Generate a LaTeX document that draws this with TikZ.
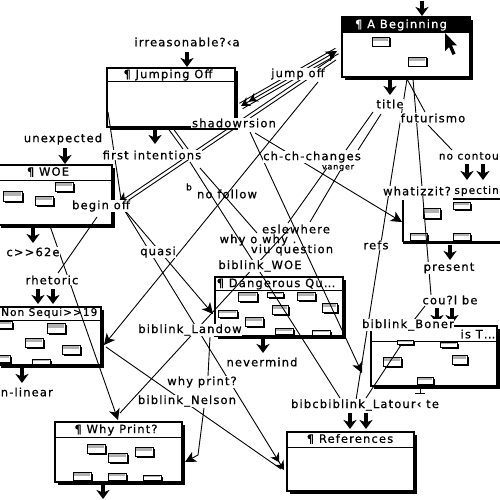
\documentclass[tikz,border=0pt]{standalone}
\usepackage{fontspec}
\newfontfamily\gen[LetterSpace=10,FakeBold=0.8]{DejaVu Sans}
\usetikzlibrary{arrows.meta,shadows}
\newcommand{\minir}[4]{%
  \fill (#1+1.5,#2+1.5) rectangle (#3+1.5,#4+1.5);
  \draw[line width=0.7pt,fill=white] (#1,#2) rectangle (#3,#4);
  \fill[gray!60] (#1+0.6,#2+0.6) rectangle (#3-0.6,{#2+(#4-#2)*0.45});}
\begin{document}
\begin{tikzpicture}[x=1pt,y=-1pt,
  stbox/.style={draw,line width=1.1pt,fill=white,inner sep=0pt,
    drop shadow={shadow xshift=3pt,shadow yshift=-3pt,fill=black,opacity=1}},
  lbl/.style={font=\gen\fontsize{11.5}{12}\selectfont,inner sep=0.6pt,fill=white},
  ttl/.style={font=\gen\fontsize{11.5}{12}\selectfont,inner sep=0.5pt},
  lnk/.style={line width=0.9pt},
  tip/.style={-{Stealth[length=11pt,width=11pt,inset=3pt]}},
  dtip/.style={-{Stealth[length=9pt,width=10pt,inset=3pt]Stealth[length=9pt,width=10pt,inset=3pt]}},
  stub/.style={line width=3.5pt,-{Stealth[length=9pt,width=13pt,inset=2.5pt]}}]
\useasboundingbox (0,0) rectangle (500,500);
\clip (0,0) rectangle (500,500);
\fill[white] (0,0) rectangle (500,500);

% ---------- boxes ----------
\node[stbox,minimum width=128pt,minimum height=60pt] (beg) at (406,47) {};
\fill (342,17) rectangle (470,33);
\node[stbox,minimum width=128pt,minimum height=59pt] (jump) at (171,97.5) {};
\draw[line width=1pt] (107,82) -- (235,82);
\node[stbox,minimum width=114pt,minimum height=60pt] (woe) at (55,195) {};
\draw[line width=1pt] (-2,180) -- (112,180);
\node[stbox,minimum width=103pt,minimum height=58pt] (nonseq) at (49.5,336) {};
\draw[line width=1pt] (-2,320) -- (101,320);
\node[stbox,minimum width=127pt,minimum height=60pt] (why) at (118.5,452) {};
\draw[line width=1pt] (55,437) -- (182,437);
\node[stbox,minimum width=128pt,minimum height=59pt] (dang) at (279,306.5) {};
\draw[line width=1pt] (215,290) -- (343,290);
\node[stbox,minimum width=126pt,minimum height=60pt] (bonerbox) at (434,356) {};
\draw[line width=1pt] (371,341) -- (497,341);
\node[stbox,minimum width=127pt,minimum height=59pt] (refsbox) at (350.5,461.5) {};
\draw[line width=1pt] (287,447) -- (414,447);
% partly hidden box on the right
\draw[line width=1.1pt] (403,200) -- (403,242);
\fill (403,240.5) rectangle (500,243.5);
\draw[line width=1.4pt] (453,199) -- (500,199);

% mini rectangles
\minir{372}{37}{389}{46}\minir{408}{57}{426}{66}
\minir{3}{191}{22}{201}\minir{35}{196}{53}{205}\minir{55}{182}{73}{191}
\minir{-3}{321}{12}{328}\minir{47}{323}{65}{333}\minir{25}{338}{43}{347}
\minir{62}{345}{80}{354}\minir{-3}{355}{10}{362}\minir{32}{359}{50}{364}
\minir{87}{444}{105}{453}\minir{108}{453}{127}{462}\minir{135}{447}{153}{456}
\minir{73}{472}{91}{480}\minir{108}{473}{126}{480}\minir{143}{475}{161}{480}
\minir{238}{292}{257}{301}\minir{267}{292}{283}{297}\minir{297}{292}{315}{300}
\minir{272}{305}{288}{314}\minir{322}{303}{337}{312}\minir{218}{310}{237}{317}
\minir{245}{317}{263}{326}\minir{275}{328}{293}{334}\minir{312}{330}{330}{335}
\minir{410}{233}{427}{240}\minir{453}{233}{470}{240}\minir{423}{208}{440}{218}
\minir{453}{202}{470}{209}
\minir{383}{357}{401}{366}\minir{452}{355}{467}{364}\minir{440}{342}{457}{347}
\minir{417}{377}{433}{384}\minir{397}{340}{413}{344}

% cursor
\fill (445,33) -- (445,51) -- (449,47) -- (452.5,55) -- (455.5,53.5) -- (452,45.5) -- (457,45.5) -- cycle;

% ---------- link end points ----------
\coordinate (jA) at (241,106); \coordinate (jB) at (337,51);
\coordinate (bA) at (118,203); \coordinate (bB) at (334,57);
\coordinate (cA) at (318,82);  \coordinate (cB) at (104,345);
\coordinate (dA) at (50,226);  \coordinate (dB) at (118,420);
\coordinate (xA) at (290,228); \coordinate (xB) at (120,413);
\coordinate (eA) at (97,217);  \coordinate (eB) at (58,273);
\coordinate (fA) at (123,208); \coordinate (fB) at (284,470);
\coordinate (wA) at (106,347); \coordinate (wB) at (281,469);
\coordinate (gA) at (122,207); \coordinate (gB) at (213,314);
\coordinate (hA) at (250,132); \coordinate (hB) at (362,373);
\coordinate (kA) at (190,162); \coordinate (kB) at (340,398);
\coordinate (lA) at (200,168); \coordinate (lB) at (257,233);
\coordinate (t1A) at (373,112); \coordinate (t1B) at (346,150);
\coordinate (t2A) at (381,114); \coordinate (t2B) at (358,150);
\coordinate (e1A) at (327,168); \coordinate (e1B) at (288,223);
\coordinate (e2A) at (340,171); \coordinate (e2B) at (310,222);
\coordinate (sA) at (255,133); \coordinate (sB) at (402,222);
\coordinate (fuA) at (407,79); \coordinate (fuB) at (425,112);
\coordinate (fuC) at (428,125); \coordinate (fuD) at (452,150);
\coordinate (oA) at (407,79); \coordinate (oB) at (356,400);
\coordinate (pA) at (413,79); \coordinate (pB) at (431,295);
\coordinate (qA) at (425,306); \coordinate (qB) at (414,320);
\coordinate (rA) at (401,345); \coordinate (rB) at (366,398);
\coordinate (vA) at (210,337); \coordinate (vB) at (208,376);
\coordinate (nA) at (204,408); \coordinate (nM) at (198,455); \coordinate (nB) at (185,462);
\coordinate (u1A) at (167,127); \coordinate (u1B) at (183,149);
\coordinate (u2A) at (172,127); \coordinate (u2B) at (188,149);
\coordinate (yA) at (108,112); \coordinate (yB) at (121,199);

% ---------- links ----------
\draw[lnk,{Stealth[length=9pt,width=10pt,inset=3pt]Stealth[length=9pt,width=10pt,inset=3pt]}-{Stealth[length=11pt,width=11pt,inset=3pt]}] (jA) -- (jB);
\draw[lnk] ([shift={(1.6,2.7)}]jA) -- ([shift={(1.6,2.7)}]jB);
\draw[lnk] ([shift={(-1.6,-2.7)}]jA) -- ([shift={(-1.6,-2.7)}]jB);
\draw[lnk,tip] (bB) -- (bA);
\draw[lnk] ([shift={(2,3)}]bB) -- ([shift={(2,3)}]bA);
\draw[lnk,tip] (cA) -- (cB);
\draw[lnk,tip] (dA) -- (dB);
\draw[lnk] (xA) -- (xB);
\draw[lnk] (eA) -- (eB);
\draw[lnk,dtip] (fA) -- (fB);
\draw[lnk] (wA) -- (wB);
\draw[lnk,tip] (gA) -- (gB);
\draw[lnk,tip] (hA) -- (hB);
\draw[lnk] (kA) -- (kB);
\draw[lnk] (lA) -- (lB);
\draw[lnk] (t1A) -- (t1B);
\draw[lnk] (t2A) -- (t2B);
\draw[lnk] (e1A) -- (e1B);
\draw[lnk] (e2A) -- (e2B);
\draw[lnk,tip] (sA) -- (sB);
\draw[lnk] (fuA) -- (fuB);
\draw[lnk] (fuC) -- (fuD);
\draw[lnk] (oA) -- (oB);
\draw[lnk] (pA) -- (pB);
\draw[lnk] (qA) -- (qB);
\draw[lnk] (rA) -- (rB);
\draw[lnk] (vA) -- (vB);
\draw[lnk,tip] (nA) -- (nM) -- (nB);
\draw[lnk] (u1A) -- (u1B);
\draw[lnk] (u2A) -- (u2B);
\draw[lnk] (yA) -- (yB);

% ---------- stub arrows ----------
\coordinate (s1a) at (187,52);  \coordinate (s1b) at (187,67);
\coordinate (s2a) at (422,1);   \coordinate (s2b) at (422,16);
\coordinate (s3a) at (390,80);  \coordinate (s3b) at (390,95);
\coordinate (s4a) at (155,129); \coordinate (s4b) at (155,144);
\coordinate (s5a) at (65,148);  \coordinate (s5b) at (65,164);
\coordinate (s6a) at (33,228);  \coordinate (s6b) at (33,243);
\coordinate (s7a) at (38,289);  \coordinate (s7b) at (38,304);
\coordinate (s8a) at (53,289);  \coordinate (s8b) at (53,304);
\coordinate (s9a) at (22,368);  \coordinate (s9b) at (22,383);
\coordinate (s10a) at (103,485); \coordinate (s10b) at (103,499);
\coordinate (s11a) at (263,339); \coordinate (s11b) at (263,353);
\coordinate (s12a) at (450,245); \coordinate (s12b) at (450,260);
\coordinate (s13a) at (467,164); \coordinate (s13b) at (467,180);
\coordinate (s14a) at (483,164); \coordinate (s14b) at (483,180);
\coordinate (s15a) at (437,308); \coordinate (s15b) at (437,324);
\coordinate (s16a) at (452,308); \coordinate (s16b) at (452,324);
\coordinate (s17a) at (350,413); \coordinate (s17b) at (350,429);
\coordinate (s18a) at (366,413); \coordinate (s18b) at (366,429);
\foreach \i in {1,...,18} {\draw[stub] (s\i a) -- (s\i b);}
\coordinate (tk1) at (420,388); \coordinate (tk2) at (420,393);
\draw[line width=1pt] (tk1) -- (tk2) ([xshift=-5pt]tk2) -- ([xshift=5pt]tk2);

% ---------- titles ----------
\node[ttl,text=white] (begT) at (401,25) {¶ A Beginning};
\node[ttl] (jumpT) at (168,75) {¶ Jumping Off};
\node[ttl] (woeT) at (48,172) {¶ WOE};
\node[ttl,anchor=west,font=\gen\fontsize{10.5}{11}\selectfont] (nsT) at (0.5,313) {Non Sequi>>19};
\node[ttl] (whyT) at (116,430) {¶ Why Print?};
\node[ttl,anchor=west] (dangT) at (216,284) {¶ Dangerous Qu…};
\node[ttl] (refsT) at (350,439) {¶ References};
\node[ttl] (bonerT) at (478,334) {is T…};
\node[ttl,anchor=east,font=\gen\fontsize{10.5}{11}\selectfont] (specT) at (499.5,191) {spectin};

% ---------- link labels ----------
\node[lbl] (irr) at (187,42) {irreasonable?‹a};
\node[lbl] (jumpoff) at (298,74) {jump off};
\node[lbl] (shadow) at (234,123) {shadowrsion};
\node[lbl] (unexp) at (63,139) {unexpected};
\node[lbl] (first) at (152,155) {first intentions};
\node[lbl] (chch) at (312,157) {ch-ch-changes};
\node[lbl,font=\gen\fontsize{8}{8}\selectfont,fill=none] (vanger) at (338,168) {vanger};
\node[lbl] (ttlL) at (390,104) {title};
\node[lbl] (futur) at (433,118) {futurismo};
\node[lbl,anchor=east,font=\gen\fontsize{10.5}{11}\selectfont] (nocont) at (499.5,156) {no contou};
\node[lbl] (whatiz) at (417,191) {whatizzit?};
\node[lbl,fill=none] (nofollow) at (227,194) {no follow};
\node[lbl,font=\gen\fontsize{9}{9}\selectfont,fill=none] (bsup) at (189,187) {b};
\node[lbl] (beginoff) at (101,206) {begin off};
\node[lbl,fill=none] (eslew) at (296,229) {eslewhere};
\node[lbl,fill=none] (whyo) at (258,240) {why o why .};
\node[lbl,fill=none] (viu) at (292,250) {viu question};
\node[lbl] (c62) at (33,252) {c>>62e};
\node[lbl] (quasi) at (158,252) {quasi};
\node[lbl] (refsL) at (376,245) {refs};
\node[lbl] (bwoe) at (260,266) {biblink\_WOE};
\node[lbl] (rhet) at (52,280) {rhetoric};
\node[lbl] (present) at (449,268) {present};
\node[lbl] (coul) at (450,300) {cou?l be};
\node[lbl] (landow) at (190,330) {biblink\_Landow};
\node[lbl] (bonerL) at (408,325) {biblink\_Boner};
\node[lbl] (never) at (262,362) {nevermind};
\node[lbl,anchor=west] (nlin) at (0,392) {n-linear};
\node[lbl] (whyp) at (202,382) {why print?};
\node[lbl] (nelson) at (187,401) {biblink\_Nelson};
\node[lbl] (bibc) at (365,405) {bibcbiblink\_Latour‹ te};
\end{tikzpicture}
\end{document}
